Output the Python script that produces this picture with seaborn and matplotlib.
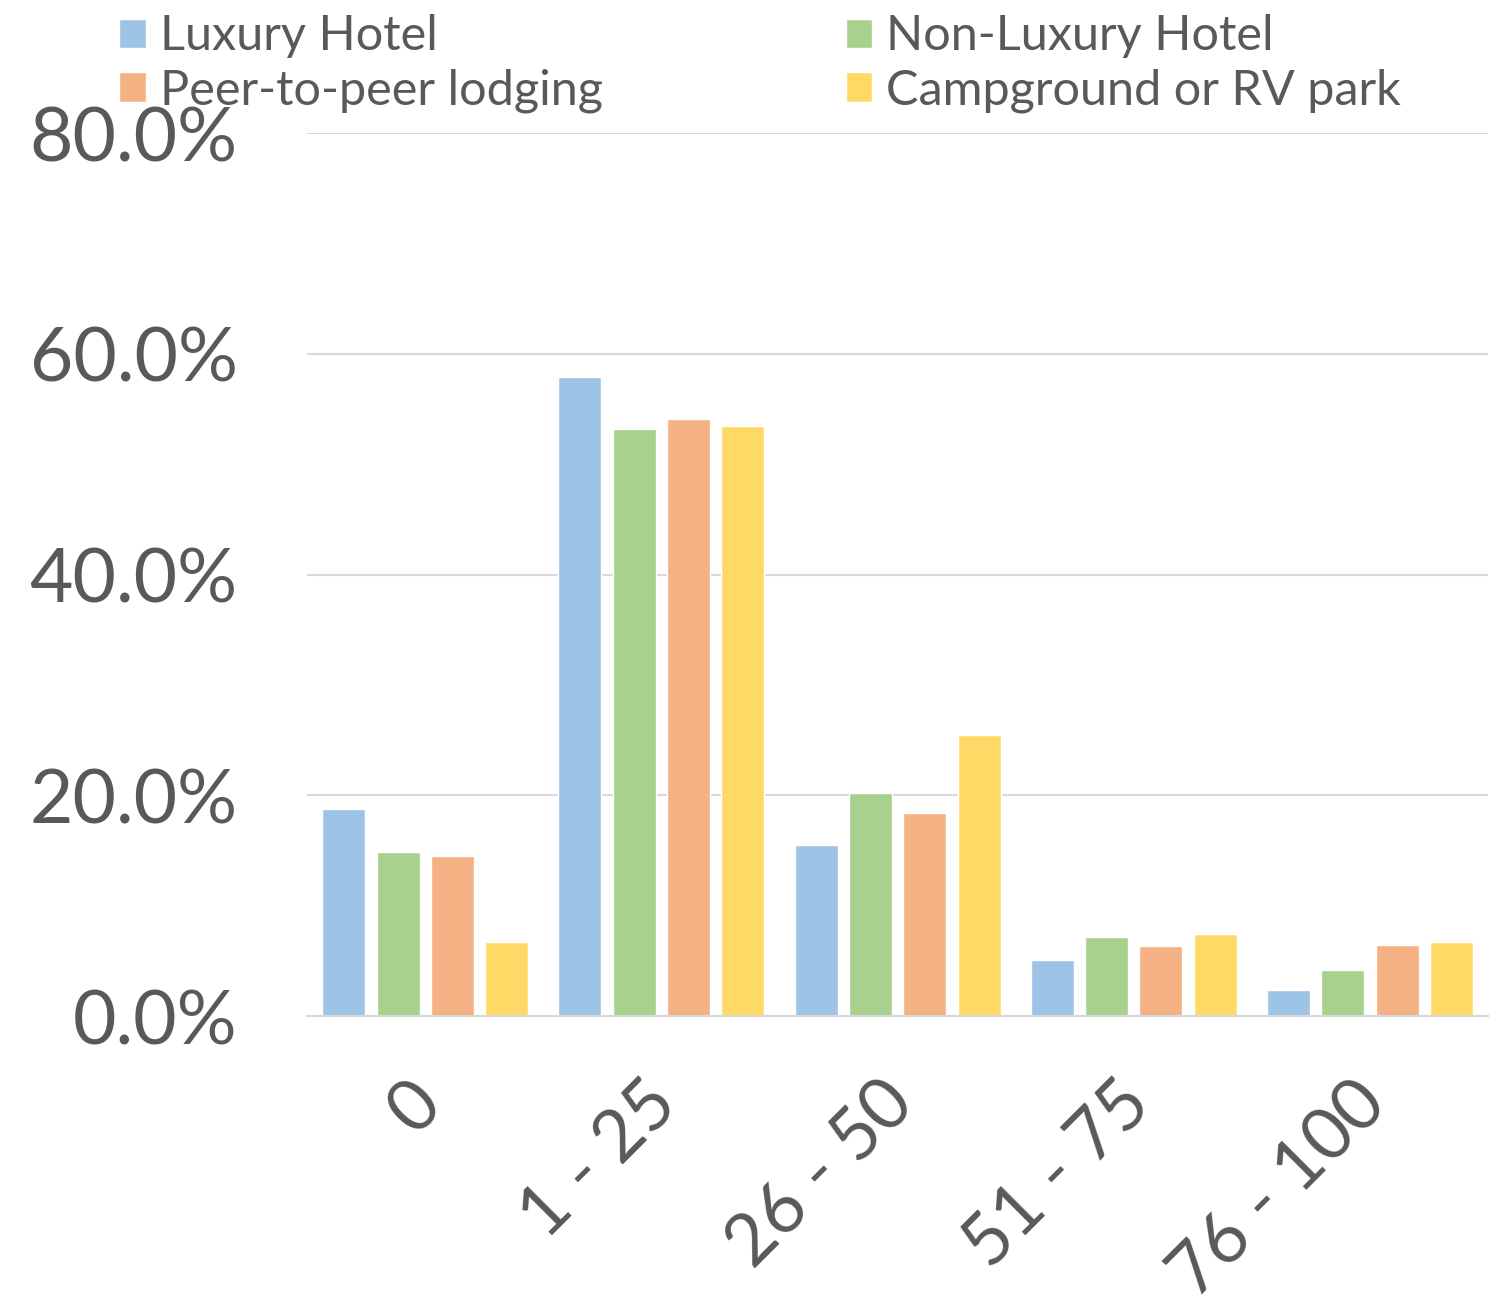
"""Stays by share of trip nights, grouped bars by lodging type."""

import pandas as pd
import seaborn as sns
import matplotlib.pyplot as plt
from matplotlib.patches import Patch
from matplotlib.ticker import PercentFormatter
from matplotlib.transforms import ScaledTranslation

# Data
bins = ['0', '1 - 25', '26 - 50', '51 - 75', '76 - 100']
luxury = [0.188, 0.579, 0.155, 0.051, 0.024]
non_luxury = [0.149, 0.532, 0.202, 0.072, 0.042]
peer = [0.145, 0.541, 0.184, 0.063, 0.064]
camp = [0.067, 0.535, 0.255, 0.074, 0.067]

series = ['Luxury Hotel', 'Non-Luxury Hotel', 'Peer-to-peer lodging', 'Campground or RV park']
colors = ['#9DC3E6', '#A9D18E', '#F4B183', '#FFD966']

df = pd.DataFrame({
    'bin': bins * 4,
    'share': luxury + non_luxury + peer + camp,
    'type': [s for s in series for _ in bins],
})

sns.set_theme(style='white')
plt.rcParams['font.family'] = ['Lato', 'DejaVu Sans']
text_color = '#595959'

fig = plt.figure(figsize=(14.91, 13.12), dpi=100)
ax = fig.add_axes([0.206, 0.2256, 0.792, 0.673])

sns.barplot(data=df, x='bin', y='share', hue='type', palette=colors,
            width=0.92, gap=0.21, ax=ax, legend=False, saturation=1)

ax.set_ylim(0, 0.8)
ax.set_xlim(-0.5, 4.5)
ax.set_yticks([0, 0.2, 0.4, 0.6, 0.8])
ax.yaxis.set_major_formatter(PercentFormatter(1.0, decimals=1))
ax.yaxis.grid(True, color='#D9D9D9', linewidth=1.5)
ax.set_axisbelow(True)
for name, spine in ax.spines.items():
    spine.set_visible(name == 'bottom')
ax.spines['bottom'].set_color('#D9D9D9')
ax.spines['bottom'].set_linewidth(1.5)

ax.set_xlabel('')
ax.set_ylabel('')
ax.tick_params(axis='y', labelsize=54, colors=text_color, length=0, pad=50)
ax.tick_params(axis='x', labelsize=52, colors=text_color, length=0, pad=30)
for lbl in ax.get_yticklabels():
    lbl.set_horizontalalignment('right')
shift = ScaledTranslation(-0.18, -0.12, fig.dpi_scale_trans)
for lbl in ax.get_xticklabels():
    lbl.set_rotation(45)
    lbl.set_horizontalalignment('right')
    lbl.set_rotation_mode('anchor')
    lbl.set_transform(lbl.get_transform() + shift)

# legend fills row-wise in the reference, matplotlib fills column-wise
handles = [Patch(facecolor=c, label=s) for s, c in zip(series, colors)]
handles = [handles[0], handles[2], handles[1], handles[3]]
fig.legend(handles=handles, loc='upper left', bbox_to_anchor=(0.08, 0.989),
           ncol=2, frameon=False, fontsize=35, labelcolor=text_color,
           handlelength=0.55, handleheight=0.55, handletextpad=0.28,
           columnspacing=5.0, labelspacing=0.2, borderpad=0, borderaxespad=0)

fig.savefig('out.png', dpi=100)
